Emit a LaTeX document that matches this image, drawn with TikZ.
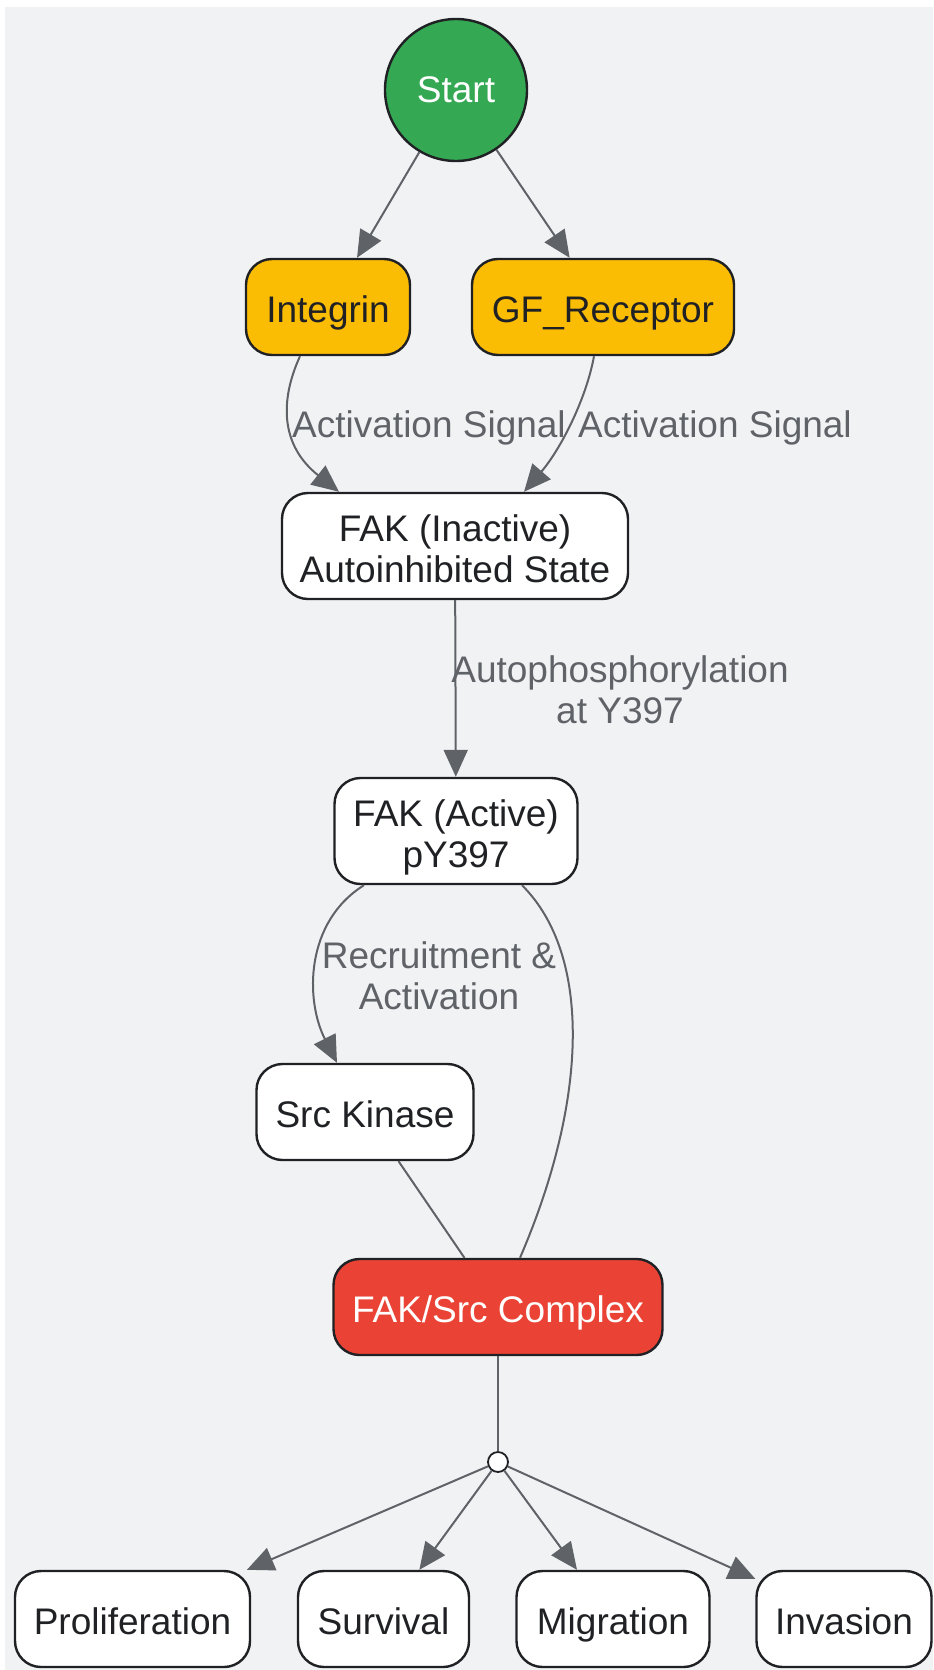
\documentclass[tikz,border=0pt]{standalone}
\usepackage{fontspec}
\setmainfont{Liberation Sans}
\usetikzlibrary{arrows.meta}
\definecolor{canvas}{HTML}{F1F2F4}
\definecolor{linegray}{HTML}{5F6368}
\definecolor{inkdark}{HTML}{202124}
\definecolor{startgreen}{HTML}{34A853}
\definecolor{sigyellow}{HTML}{FBBC04}
\definecolor{cplxred}{HTML}{EA4335}
\newcommand{\lnup}{\rule{0pt}{1.055em}}
\newcommand{\lndown}{\rule[-0.212em]{0pt}{0.212em}}
\begin{document}
\begin{tikzpicture}[x=0.5pt,y=-0.5pt,
    every node/.style={font=\fontsize{18.5}{20.5}\selectfont},
    struts/.style={execute at begin node=\lnup,execute at end node=\lndown},
    box/.style={struts,draw=inkdark,line width=1.2pt,rounded corners=13pt,fill=white,text=inkdark,
      align=center,inner sep=0pt,minimum height=48pt},
    elabel/.style={struts,text=linegray,align=center,inner sep=0pt},
    flow/.style={draw=linegray,line width=1pt},
    arr/.style={flow,-{Triangle[length=13.5pt,width=12pt,fill=linegray]}}]
  % Canvas
  \useasboundingbox (0,0) rectangle (933,1670);
  \fill[canvas] (5,7) rectangle (933,1670);

  % Nodes
  \node[circle,draw=inkdark,line width=1.2pt,fill=startgreen,text=white,
    minimum size=71pt,inner sep=0pt] (start) at (456,90) {Start};
  \node[box,fill=sigyellow,minimum width=82pt] (integrin) at (328,307) {Integrin};
  \node[box,fill=sigyellow,minimum width=131pt] (gfr) at (603,307) {GF\_Receptor};
  \node[box,minimum width=173pt,minimum height=53pt] (inact) at (455,546) {\lnup FAK (Inactive)\\Autoinhibited State\lndown};
  \node[box,minimum width=121.5pt,minimum height=53pt] (act) at (456,831) {\lnup FAK (Active)\\pY397\lndown};
  \node[box,minimum width=108.5pt] (src) at (365,1112) {Src Kinase};
  \node[box,fill=cplxred,text=white,minimum width=164.5pt] (cplx) at (498,1307) {FAK/Src Complex};
  \node[circle,draw=inkdark,fill=white,line width=0.9pt,minimum size=10pt,inner sep=0pt] (fork) at (498,1462) {};
  \node[box,minimum width=117.5pt] (prolif) at (132.5,1619) {Proliferation};
  \node[box,minimum width=85.5pt] (surv) at (383.5,1619) {Survival};
  \node[box,minimum width=96.5pt] (migr) at (613,1619) {Migration};
  \node[box,minimum width=87.5pt] (inva) at (844,1619) {Invasion};

  % Edge labels
  \node[elabel] (sigl) at (429,422) {Activation Signal};
  \node[elabel] (sigr) at (715,422) {Activation Signal};
  \node[elabel] (phos) at (620,687) {\lnup Autophosphorylation\\at Y397\lndown};
  \node[elabel] (recr) at (439,973) {\lnup Recruitment \&\\Activation\lndown};

  % Receptors
  \draw[arr] (start) -- (integrin);
  \draw[arr] (start) -- (gfr);
  \draw[arr] ([xshift=-14pt]integrin.south) .. controls (280,400) and (280,445) .. ([xshift=-58pt]inact.north);
  \draw[arr] ([xshift=-4.5pt]gfr.south) .. controls (586,400) and (560,450) .. ([xshift=34.5pt]inact.north);

  % FAK activation
  \draw[arr] (inact) -- (act);
  \draw[arr] ([xshift=-46pt]act.south) .. controls (305,922) and (305,1000) .. ([xshift=-14pt]src.north);
  \draw[flow] ([xshift=33pt]act.south) .. controls (592,955) and (588,1100) .. ([xshift=11pt]cplx.north);
  \draw[flow] (src) -- (cplx);

  % Outcomes
  \draw[flow] (cplx) -- (fork);
  \draw[arr] (fork) -- (prolif);
  \draw[arr] (fork) -- (surv);
  \draw[arr] (fork) -- (migr);
  \draw[arr] (fork) -- (inva);
\end{tikzpicture}
\end{document}
